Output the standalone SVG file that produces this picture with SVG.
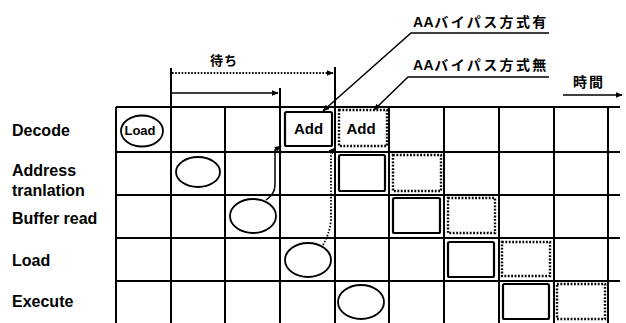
<svg xmlns="http://www.w3.org/2000/svg" width="626" height="323" viewBox="0 0 626 323">
<defs>
<style>
.grid{stroke:#000;stroke-width:2;fill:none}
.lbl{font-family:"Liberation Sans",Arial,sans-serif;font-weight:bold;font-size:16px;fill:#000}
.jp{font-family:"Liberation Sans","Noto Sans CJK JP",sans-serif;font-weight:bold;fill:#000}
.in{font-family:"Liberation Sans",Arial,sans-serif;font-weight:bold;fill:#000;text-anchor:middle}
.ell{fill:none;stroke:#000;stroke-width:1.8}
.sbox{fill:none;stroke:#000;stroke-width:2.2}
.dbox{fill:none;stroke:#000;stroke-width:2.4;stroke-dasharray:1.8 1.6}
.ln{fill:none;stroke:#000;stroke-width:1.5}
.dln{fill:none;stroke:#000;stroke-width:1.8;stroke-dasharray:1.6 1.6}
</style>
<marker id="ah" viewBox="0 0 10 10" refX="9" refY="5" markerWidth="7" markerHeight="7" orient="auto" markerUnits="userSpaceOnUse">
<path d="M0,1 L10,5 L0,9 z" fill="#000"/>
</marker>
</defs>
<rect width="626" height="323" fill="#fff"/>

<g id="grid" class="grid">
<path d="M116,107 H620 M116,152 H620 M116,195 H620 M116,238 H620 M116,281 H620"/>
<path d="M116,107 V323 M171,68 V323 M225,107 V323 M280,88 V323 M335,67 V323 M389,107 V323 M444,107 V323 M499,107 V323 M554,107 V323 M608,107 V323"/>
</g>

<g id="row-labels">
<text class="lbl" x="12" y="136">Decode</text>
<text class="lbl" x="12" y="176">Address</text>
<text class="lbl" x="12" y="196">tranlation</text>
<text class="lbl" x="12" y="224">Buffer read</text>
<text class="lbl" x="12" y="266">Load</text>
<text class="lbl" x="12" y="307">Execute</text>
</g>

<g id="load-decode"><ellipse class="ell" cx="142" cy="131" rx="21" ry="15.5"/><text class="in" x="140" y="135" font-size="13">Load</text></g>
<g id="load-addr"><ellipse class="ell" cx="198" cy="172" rx="22" ry="15"/></g>
<g id="load-buf"><ellipse class="ell" cx="253" cy="216" rx="23" ry="17"/></g>
<g id="load-load"><ellipse class="ell" cx="308" cy="260" rx="23" ry="17"/></g>
<g id="load-exec"><ellipse class="ell" cx="361" cy="302" rx="23" ry="17"/></g>

<g id="add-with-decode"><rect class="sbox" x="285" y="112" width="47" height="34" rx="1.5"/><text class="in" x="308.5" y="134" font-size="15">Add</text></g>
<g id="add-with-addr"><rect class="sbox" x="339" y="155" width="46" height="36" rx="1.5"/></g>
<g id="add-with-buf"><rect class="sbox" x="393" y="198" width="47" height="35" rx="1.5"/></g>
<g id="add-with-load"><rect class="sbox" x="448" y="242" width="46" height="35" rx="1.5"/></g>
<g id="add-with-exec"><rect class="sbox" x="503" y="284" width="46" height="35" rx="1.5"/></g>

<g id="add-without-decode"><rect class="dbox" x="339" y="110" width="48" height="36"/><text class="in" x="361" y="134" font-size="15">Add</text></g>
<g id="add-without-addr"><rect class="dbox" x="393" y="155" width="48" height="36"/></g>
<g id="add-without-buf"><rect class="dbox" x="448" y="198" width="47" height="35"/></g>
<g id="add-without-load"><rect class="dbox" x="502" y="242" width="48" height="34"/></g>
<g id="add-without-exec"><rect class="dbox" x="557" y="284" width="48" height="35"/></g>

<g id="titles">
<text class="jp" x="210" y="65" font-size="13" letter-spacing="1">待ち</text>
<text class="jp" x="413" y="27" font-size="14"><tspan letter-spacing="0.5">AA</tspan><tspan letter-spacing="2.4">バイパス方式有</tspan></text>
<text class="jp" x="413" y="70" font-size="14"><tspan letter-spacing="0.5">AA</tspan><tspan letter-spacing="2.4">バイパス方式無</tspan></text>
<text class="jp" x="573" y="87" font-size="14" letter-spacing="2">時間</text>
</g>

<g id="connectors">
<path class="dln" d="M172,73 H333" marker-end="url(#ah)"/>
<path class="ln" d="M172,93 H278" marker-end="url(#ah)"/>
<path class="ln" d="M549,33 H411 L323,111" marker-end="url(#ah)"/>
<path class="ln" d="M549,77 H408 L374,110" marker-end="url(#ah)"/>
<path class="ln" d="M563,95 H622" marker-end="url(#ah)"/>
<path class="ln" d="M266,200 C272,196 275,192 275,185 L275,150 L281,146" marker-end="url(#ah)"/>
<path class="dln" d="M323,245 C327,238 330,230 331,220 L331,152 L335,148" marker-end="url(#ah)"/>
</g>
</svg>
